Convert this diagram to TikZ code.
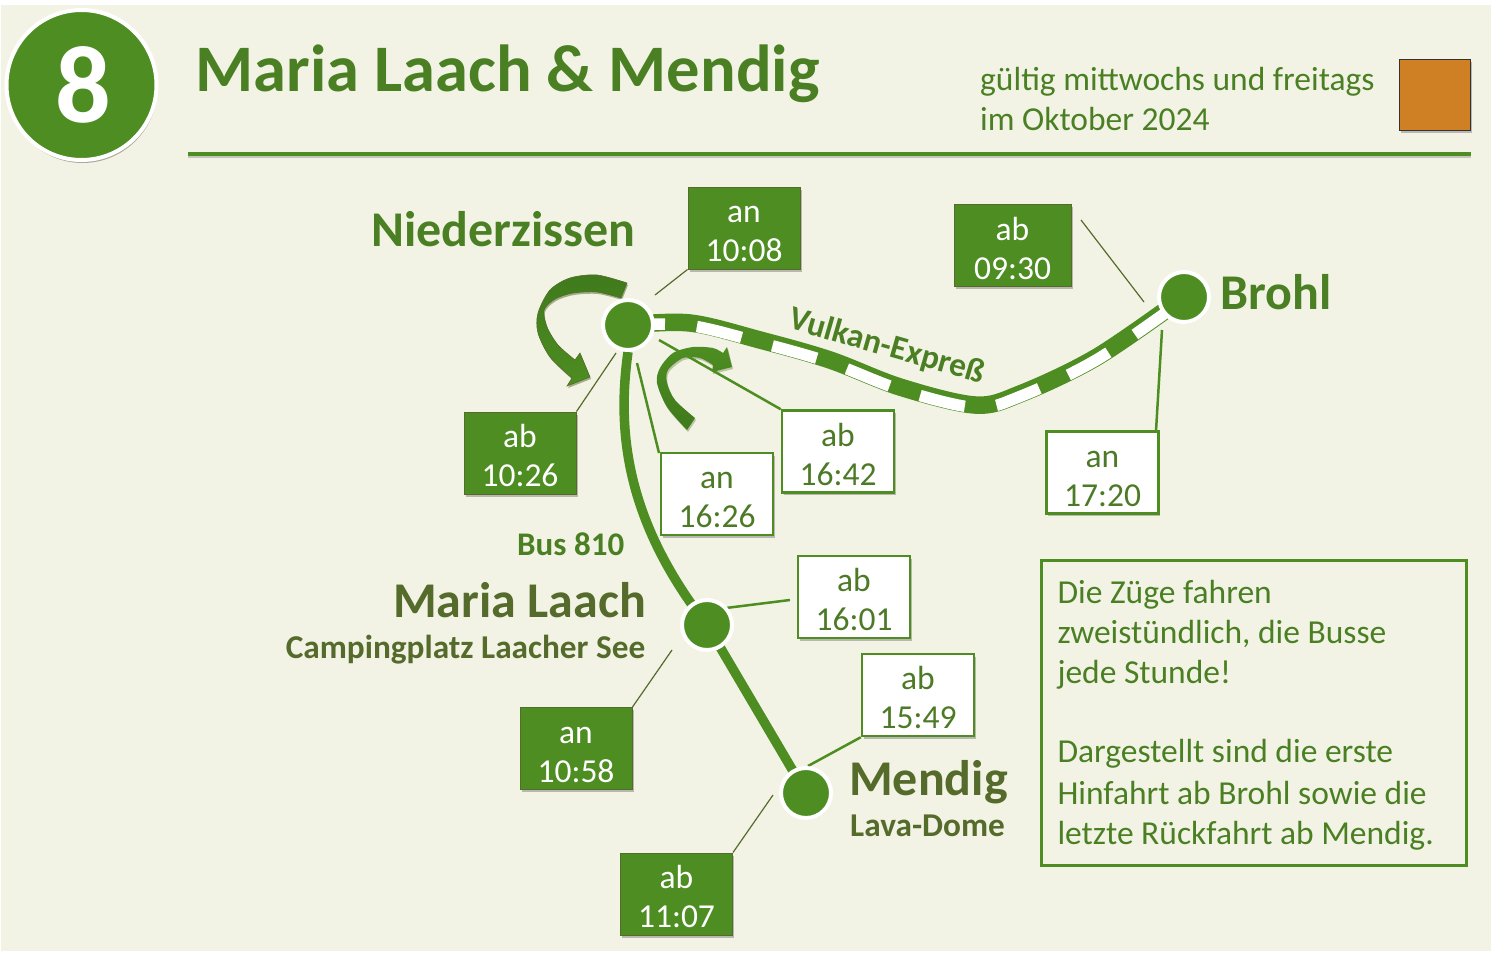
\documentclass[tikz,border=0pt]{standalone}
\usepackage{fontspec}
\setmainfont{Carlito}
\usetikzlibrary{backgrounds,shadows,calc}
\definecolor{gr}{HTML}{4D8D21}
\definecolor{dgr}{HTML}{3F7A1C}
\definecolor{tgr}{HTML}{4A8023}
\definecolor{ol}{HTML}{556B2C}
\definecolor{bgc}{HTML}{F3F3E5}
\definecolor{org}{HTML}{D08024}
\newcommand{\fs}[1]{\fontsize{#1}{#1}\selectfont}
\newcommand{\fsl}[2]{\fontsize{#1}{#2}\selectfont}
\newcommand{\tp}{\rule{0pt}{28.5pt}}
\tikzset{
 softshadow/.style={drop shadow={shadow xshift=1.5pt,shadow yshift=-2.5pt,opacity=.35,fill=black!70}},
 filledbox/.style={rectangle,fill=gr,draw=ol,line width=1pt,minimum width=112pt,minimum height=82pt,inner sep=0pt,text=white,align=center,font=\fsl{33.5}{39},softshadow},
 whitebox/.style={rectangle,fill=white,draw=gr,line width=2.5pt,minimum width=112pt,minimum height=82pt,inner sep=0pt,text=tgr!70!ol,align=center,font=\fsl{33.5}{39},softshadow},
 stopdot/.style={circle,fill=gr,draw=white,line width=4pt,minimum size=50pt,inner sep=0pt,drop shadow={shadow xshift=1pt,shadow yshift=-1.5pt,opacity=.3,fill=black}},
 thinline/.style={draw=ol,line width=1.2pt},
 greenline/.style={draw=gr,line width=2.5pt},
 stoplabel/.style={anchor=base west,inner sep=0pt,font=\bfseries\fs{50},text=tgr},
 placelabel/.style={inner sep=0pt,font=\bfseries\fs{50},text=ol},
 sublabel/.style={inner sep=0pt,font=\bfseries\fs{33.3},text=ol},
 arrowA/.style={insert path={plot[smooth] coordinates {(627,283) (597,275) (570,278) (550,290) (538,313) (538,333) (550,357) (572,378)} -- (567,386) -- (590,377) -- (580,353) -- (575,360) -- plot[smooth] coordinates {(575,360) (558,345) (547,327) (544,310) (555,299) (573,293) (597,292) (621,298)} -- cycle}},
 arrowB/.style={insert path={plot[smooth] coordinates {(687,430) (667,407) (657,383) (660,368) (673,353) (693,347) (713,348) (723,353)} -- (727,347) -- (732,367) -- (712,372) -- (713,365) -- plot[smooth] coordinates {(713,365) (700,358) (683,358) (668,370) (667,383) (675,400) (695,418)} -- cycle}},
}
\begin{document}
\begin{tikzpicture}[x=1pt,y=-1pt]
\useasboundingbox (0,0) rectangle (1491,953);
% stops
\node[stopdot] (nz) at (628,325) {};
\node[stopdot] (br) at (1184,297) {};
\node[stopdot] (ml) at (707,625) {};
\node[stopdot] (me) at (806,793) {};
% header
\node[circle,fill=gr,draw=white,line width=4pt,minimum size=150pt,inner sep=0pt,text=white,font=\bfseries\fs{110},drop shadow={shadow xshift=1pt,shadow yshift=-3pt,opacity=.3,fill=black}] (num) at (81.5,85) {\raisebox{-3pt}{\hspace*{3pt}8}};
\node[anchor=base west,inner sep=0pt,font=\bfseries\fs{66.5},text=tgr] (title) at (195.5,91) {Maria Laach \& Mendig};
\node[anchor=base west,inner sep=0pt,font=\fs{33.5},text=tgr] (valid1) at (980,90) {gültig mittwochs und freitags};
\node[anchor=base west,inner sep=0pt,font=\fs{33.5},text=tgr] (valid2) at (980,130) {im Oktober 2024};
\node[rectangle,fill=org,draw=black!80,line width=1pt,minimum size=71pt,inner sep=0pt,softshadow] (sq) at (1434.5,94.5) {};
\coordinate (ruleL) at (188,154);
\coordinate (ruleR) at (1471,154);
% labels
\node[stoplabel] (lnz) at (371,246) {Niederzissen};
\node[stoplabel] (lbr) at (1220,309) {Brohl};
\node[anchor=base east,placelabel] (lml) at (646,617) {Maria Laach};
\node[anchor=base east,sublabel] (lml2) at (645.5,658) {Campingplatz Laacher See};
\node[anchor=base west,placelabel] (lme) at (849,795) {Mendig};
\node[anchor=base west,sublabel] (lme2) at (850,836) {Lava-Dome};
\node[anchor=base west,inner sep=0pt,font=\bfseries\fs{33},text=tgr] (bus) at (517,555) {Bus 810};
\node[inner sep=0pt,font=\bfseries\fs{33.5},text=tgr,rotate=-16] (vk) at (887,347) {Vulkan-Expreß};
% boxes
\node[filledbox] (a1008) at (744,228) {\tp an\\10:08};
\node[filledbox,minimum width=117pt] (a0930) at (1012.5,245.5) {\tp ab\\09:30};
\node[filledbox] (a1026) at (520,453) {\tp ab\\10:26};
\node[filledbox] (a1058) at (576,748.5) {\tp an\\10:58};
\node[filledbox] (a1107) at (676.5,894) {\tp ab\\11:07};
\node[whitebox] (w1626) at (717,494) {\tp an\\16:26};
\node[whitebox] (w1642) at (838,451.5) {\tp ab\\16:42};
\node[whitebox] (w1720) at (1102.5,472.5) {\tp an\\17:20};
\node[whitebox] (w1601) at (854,597) {\tp ab\\16:01};
\node[whitebox] (w1549) at (918,695) {\tp ab\\15:49};
\node[rectangle,draw=gr,line width=3pt,fill=none,minimum width=425pt,minimum height=305pt,inner xsep=15pt,inner ysep=11pt,text width=392pt,align=flush left,font=\fsl{33.5}{40},text=tgr] (info) at (1253.5,712.5) {\rule{0pt}{29.5pt}Die Züge fahren\\zweistündlich, die Busse\\jede Stunde!\\[-1pt]\mbox{}\\[0pt]Dargestellt sind die erste\\[2pt]Hinfahrt ab Brohl sowie die\\letzte Rückfahrt ab Mendig.};
% free ends of connectors
\coordinate (c1008) at (655,295);
\coordinate (c0930a) at (1081,220);
\coordinate (c0930b) at (1144,302);
\coordinate (c1026) at (616,353);
\coordinate (c1058) at (672,650);
\coordinate (c1107) at (773,795);
\coordinate (c1626a) at (637,363);
\coordinate (c1626b) at (659,453);
\coordinate (c1642) at (659,340);
\coordinate (c1720) at (1162,330);
\coordinate (c1720b) at (1156,431);
\coordinate (c1601a) at (726,608);
\coordinate (c1601b) at (790,600);
\coordinate (c1549) at (808,766);
\begin{scope}[on background layer]
 \fill[white] (0,0) rectangle (1491,953);
 \fill[bgc] (1,5) rectangle (1491,951);
 % rule
 \draw[black!40,line width=3pt,opacity=.5] ($(ruleL)+(0,2)$) -- ($(ruleR)+(0,2)$);
 \draw[gr,line width=4pt] (ruleL) -- (ruleR);
 % thin connectors
 \draw[thinline] (a1008.south west) -- (c1008);
 \draw[thinline] (c0930a) -- (c0930b);
 \draw[thinline] (a1026.north east) -- (c1026);
 \draw[thinline] (a1058.north east) -- (c1058);
 \draw[thinline] (a1107.north east) -- (c1107);
 \draw[greenline] (c1626a) -- (c1626b);
 \draw[greenline] (c1720) -- (c1720b);
 \draw[greenline] (c1601a) -- (c1601b);
 \draw[greenline] (c1549) -- (w1549.south west);
 % bus line
 \draw[gr,line width=9.5pt] (nz.south) .. controls (617,430) and (625,520) .. (ml.center);
 \draw[gr,line width=9.5pt] (ml.center) -- (me.center);
 % railway
 \draw[gr,line width=17.5pt] plot[smooth,tension=.55] coordinates {(nz) (690,323) (760,340) (830,360) (900,387) (975,405) (1020,394) (1097,357) (br)};
 \draw[white,line width=11.5pt,dash pattern=on 46pt off 32pt,dash phase=9pt] plot[smooth,tension=.55] coordinates {(628,325) (690,325.5) (760,342.5) (830,362.5) (900,389.5) (975,407.5) (1020,396.5) (1097,359.5) (1184,299.5)};
 % curved arrows
 \fill[shift={(1,2)},ol,opacity=.5,arrowA];
 \shade[top color=dgr,bottom color=gr,draw=ol,line width=.6pt,arrowA];
 \fill[shift={(1,2)},ol,opacity=.35,arrowB];
 \shade[top color=gr,bottom color=dgr,arrowB];
 \draw[greenline] (c1642) -- (w1642.north west);
\end{scope}
\end{tikzpicture}
\end{document}
